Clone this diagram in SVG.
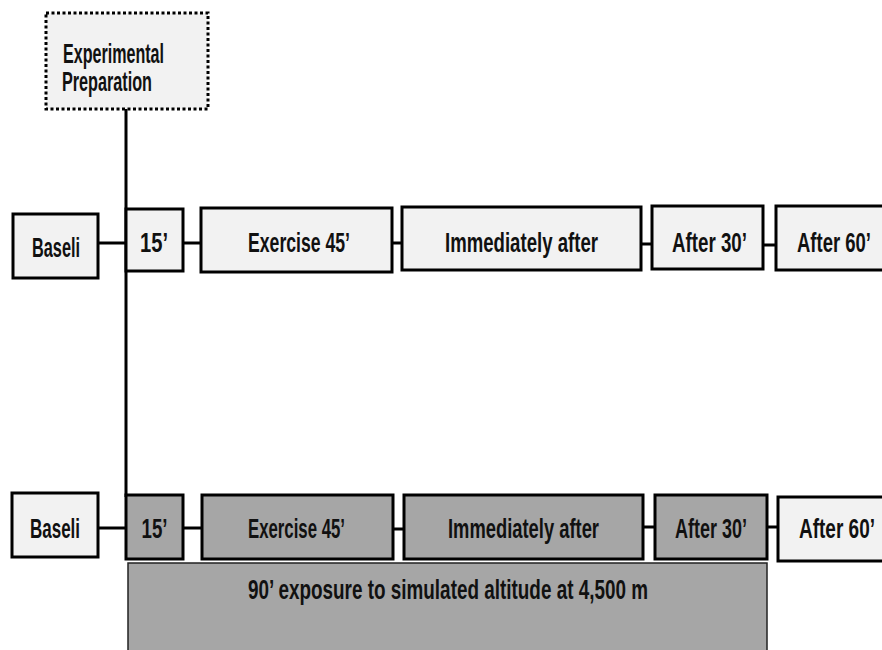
<svg xmlns="http://www.w3.org/2000/svg" width="882" height="650" viewBox="0 0 882 650">
<style>
.lt{fill:#f2f2f2;stroke:#000;stroke-width:3}
.dk{fill:#a6a6a6;stroke:#000;stroke-width:3}
.t{font-family:"Liberation Sans",Arial,sans-serif;font-weight:bold;font-size:27px;fill:#111;text-anchor:middle}
.c{stroke:#000;stroke-width:3;fill:none}
</style>
<rect width="882" height="650" fill="#fff"/>
<g id="connectors">
<line class="c" x1="126" y1="109" x2="126" y2="497"/>
<line class="c" x1="98" y1="243" x2="126" y2="243"/>
<line class="c" x1="183" y1="243" x2="201" y2="243"/>
<line class="c" x1="392" y1="243" x2="402" y2="243"/>
<line class="c" x1="641" y1="244" x2="652" y2="244"/>
<line class="c" x1="763" y1="245" x2="776" y2="245"/>
<line class="c" x1="98" y1="528" x2="126" y2="528"/>
<line class="c" x1="183" y1="528" x2="202" y2="528"/>
<line class="c" x1="393" y1="529" x2="404" y2="529"/>
<line class="c" x1="643" y1="527" x2="655" y2="527"/>
<line class="c" x1="767" y1="527" x2="778" y2="527"/>
</g>
<g id="prep">
<rect x="46" y="13" width="162" height="96" fill="#f2f2f2" stroke="#000" stroke-width="3" stroke-dasharray="3 2.5"/>
<text class="t" x="113.5" y="63" textLength="101" lengthAdjust="spacingAndGlyphs">Experimental</text>
<text class="t" x="107" y="91" textLength="90" lengthAdjust="spacingAndGlyphs">Preparation</text>
</g>
<g id="r1-baseline"><rect class="lt" x="13" y="214" width="85" height="64"/><text class="t" x="56" y="257" textLength="48" lengthAdjust="spacingAndGlyphs">Baseli</text></g>
<g id="r1-15"><rect class="lt" x="126" y="209" width="57" height="62"/><text class="t" x="154" y="252" textLength="28" lengthAdjust="spacingAndGlyphs">15’</text></g>
<g id="r1-ex"><rect class="lt" x="201" y="208" width="191" height="64"/><text class="t" x="299" y="252" textLength="102" lengthAdjust="spacingAndGlyphs">Exercise 45’</text></g>
<g id="r1-imm"><rect class="lt" x="402" y="207" width="239" height="63"/><text class="t" x="521.5" y="252" textLength="153" lengthAdjust="spacingAndGlyphs">Immediately after</text></g>
<g id="r1-a30"><rect class="lt" x="652" y="206" width="111" height="63"/><text class="t" x="709.5" y="252" textLength="75" lengthAdjust="spacingAndGlyphs">After 30’</text></g>
<g id="r1-a60"><rect class="lt" x="776" y="206" width="120" height="64"/><text class="t" x="834" y="252" textLength="74" lengthAdjust="spacingAndGlyphs">After 60’</text></g>
<g id="r2-baseline"><rect class="lt" x="12" y="493" width="86" height="64"/><text class="t" x="55" y="538" textLength="50" lengthAdjust="spacingAndGlyphs">Baseli</text></g>
<g id="r2-15"><rect class="dk" x="126" y="495" width="57" height="64"/><text class="t" x="154.5" y="538" textLength="26" lengthAdjust="spacingAndGlyphs">15’</text></g>
<g id="r2-ex"><rect class="dk" x="202" y="495" width="191" height="64"/><text class="t" x="296.5" y="538" textLength="97" lengthAdjust="spacingAndGlyphs">Exercise 45’</text></g>
<g id="r2-imm"><rect class="dk" x="404" y="495" width="239" height="64"/><text class="t" x="523.5" y="538" textLength="151" lengthAdjust="spacingAndGlyphs">Immediately after</text></g>
<g id="r2-a30"><rect class="dk" x="655" y="495" width="112" height="64"/><text class="t" x="711" y="538" textLength="72" lengthAdjust="spacingAndGlyphs">After 30’</text></g>
<g id="r2-a60"><rect class="lt" x="778" y="497" width="120" height="64"/><text class="t" x="837" y="538" textLength="76" lengthAdjust="spacingAndGlyphs">After 60’</text></g>
<g id="altitude">
<rect x="128" y="563" width="639" height="100" fill="#a6a6a6" stroke="#222" stroke-width="1.5"/>
<text class="t" x="448" y="599" font-size="24" textLength="400" lengthAdjust="spacingAndGlyphs">90’ exposure to simulated altitude at 4,500 m</text>
</g>
</svg>
